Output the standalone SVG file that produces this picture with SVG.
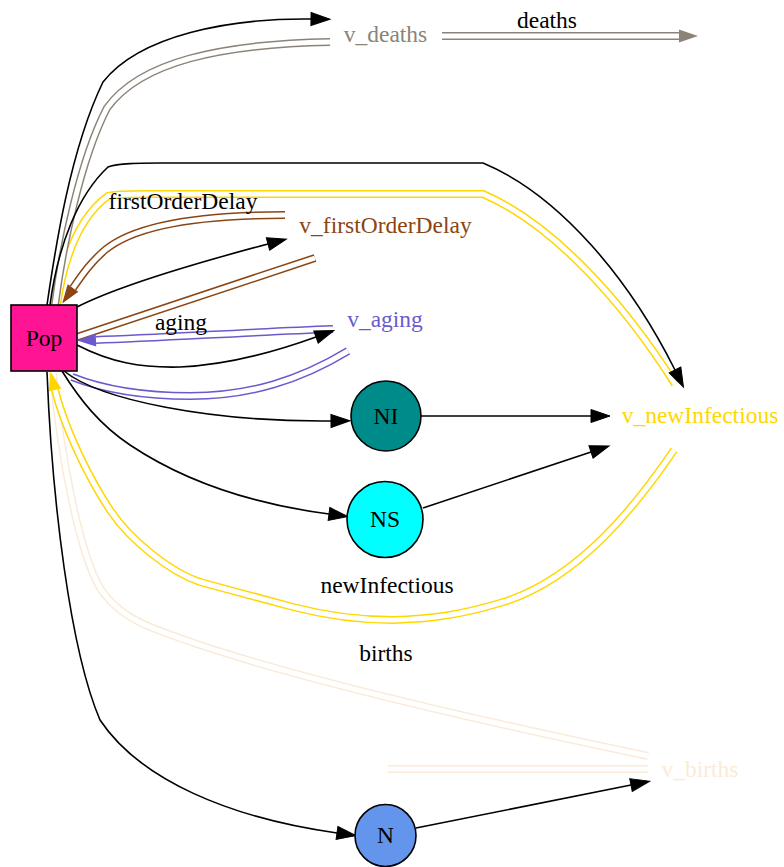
<svg xmlns="http://www.w3.org/2000/svg" width="784" height="867" viewBox="0 0 784 867">
<style>
text { font-family: "Liberation Serif", "Times New Roman", serif; font-size: 23.5px; text-anchor: middle; }
.e { fill: none; stroke: #000; stroke-width: 1.6; }
.dbl { fill: none; stroke-width: 8; }
.gap { fill: none; stroke: #fff; stroke-width: 5; }
.node { stroke: #000; stroke-width: 1.6; }
</style>
<defs>
<marker id="ak" markerUnits="userSpaceOnUse" markerWidth="22" markerHeight="16" viewBox="0 -8 22 16" refX="0" refY="0" orient="auto" overflow="visible"><path d="M0,-6.5 L19,0 L0,6.5 z" fill="#000" stroke="#000" stroke-width="1"/></marker>
<marker id="agray" markerUnits="userSpaceOnUse" markerWidth="22" markerHeight="16" viewBox="0 -8 22 16" refX="0" refY="0" orient="auto" overflow="visible"><path d="M0,-6.5 L19,0 L0,6.5 z" fill="#8b8378"/></marker>
<marker id="abrown" markerUnits="userSpaceOnUse" markerWidth="22" markerHeight="16" viewBox="0 -8 22 16" refX="0" refY="0" orient="auto" overflow="visible"><path d="M0,-6.5 L19,0 L0,6.5 z" fill="#8b4513"/></marker>
<marker id="ablue" markerUnits="userSpaceOnUse" markerWidth="22" markerHeight="16" viewBox="0 -8 22 16" refX="0" refY="0" orient="auto" overflow="visible"><path d="M0,-6.5 L19,0 L0,6.5 z" fill="#6a5acd"/></marker>
<marker id="agold" markerUnits="userSpaceOnUse" markerWidth="22" markerHeight="16" viewBox="0 -8 22 16" refX="0" refY="0" orient="auto" overflow="visible"><path d="M0,-6.5 L19,0 L0,6.5 z" fill="#ffd700"/></marker>
</defs>
<rect width="784" height="867" fill="#fff"/>
<g id="connectors">
  <g stroke="#faebd7">
    <path class="dbl" d="M53,373 C60,450 80,565 105,595 C125,620 150,628 200,645 C320,685 500,725 648,756"/>
    <path class="gap" d="M53,373 C60,450 80,565 105,595 C125,620 150,628 200,645 C320,685 500,725 648,756"/>
    <path class="dbl" d="M388,769 L648,769"/>
    <path class="gap" d="M388,769 L648,769"/>
  </g>
  <g stroke="#ffd700">
    <path class="dbl" d="M57,305 C65,250 82,215 108,196 C115,194 130,194 150,194 L483,194 C555,225 625,305 675,384"/>
    <path class="gap" d="M57,305 C65,250 82,215 108,196 C115,194 130,194 150,194 L483,194 C555,225 625,305 675,384"/>
    <path class="dbl" marker-end="url(#agold)" d="M674,450 C640,500 580,580 500,603 C460,615 430,619 393,620 C350,620 320,614 293,607 L200,582 C170,572 130,540 110,510 C90,480 65,430 55,390"/>
    <path class="gap" d="M674,450 C640,500 580,580 500,603 C460,615 430,619 393,620 C350,620 320,614 293,607 L200,582 C170,572 130,540 110,510 C90,480 65,430 55,390"/>
  </g>
  <g stroke="#8b8378">
    <path class="dbl" d="M55,305 C62,250 80,160 107,108 C140,62 220,44 330,42"/>
    <path class="gap" d="M55,305 C62,250 80,160 107,108 C140,62 220,44 330,42"/>
    <path class="dbl" marker-end="url(#agray)" d="M442,36 L679,36"/>
    <path class="gap" d="M442,36 L679,36"/>
  </g>
  <g stroke="#8b4513">
    <path class="dbl" marker-end="url(#abrown)" d="M285,215 C200,215 135,225 105,250 C90,263 82,275 73,288"/>
    <path class="gap" d="M285,215 C200,215 135,225 105,250 C90,263 82,275 73,288"/>
    <path class="dbl" d="M77,337 L315,258"/>
    <path class="gap" d="M77,337 L315,258"/>
  </g>
  <g stroke="#6a5acd">
    <path class="dbl" marker-end="url(#ablue)" d="M333,329 C250,332 160,338 96,340"/>
    <path class="gap" d="M333,329 C250,332 160,338 96,340"/>
    <path class="dbl" d="M348,351 C300,380 250,396 190,396 C140,396 100,388 72,377"/>
    <path class="gap" d="M348,351 C300,380 250,396 190,396 C140,396 100,388 72,377"/>
  </g>
  <path class="e" marker-end="url(#ak)" d="M47,305 C55,250 70,150 103,82 C140,35 230,18 311,19"/>
  <path class="e" marker-end="url(#ak)" d="M50,305 C58,245 78,195 108,167 C118,163 140,163 160,163 L483,163 C560,195 630,280 675,370"/>
  <path class="e" marker-end="url(#ak)" d="M77,307 C120,285 200,262 268,244"/>
  <path class="e" marker-end="url(#ak)" d="M77,345 C110,362 140,368 180,367 C230,365 280,350 316,337"/>
  <path class="e" marker-end="url(#ak)" d="M64,371 C100,400 210,422 331,421"/>
  <path class="e" marker-end="url(#ak)" d="M62,371 C80,400 100,425 130,445 C190,485 260,505 329,514"/>
  <path class="e" marker-end="url(#ak)" d="M47,372 C52,500 70,650 100,720 C140,780 230,818 337,833"/>
  <path class="e" marker-end="url(#ak)" d="M421,416 L591,416"/>
  <path class="e" marker-end="url(#ak)" d="M423,508 L591,452"/>
  <path class="e" marker-end="url(#ak)" d="M416,828 L631,785"/>
  <text x="547" y="28">deaths</text>
  <text x="183" y="209">firstOrderDelay</text>
  <text x="181" y="330">aging</text>
  <text x="387" y="593">newInfectious</text>
  <text x="386" y="661">births</text>
</g>
<g id="Pop"><rect class="node" x="11" y="305" width="66" height="66" fill="#ff1493"/><text x="44" y="346">Pop</text></g>
<g id="NI"><circle class="node" cx="386" cy="416" r="35" fill="#008b8b"/><text x="386" y="424">NI</text></g>
<g id="NS"><circle class="node" cx="385" cy="519.5" r="38" fill="#00ffff"/><text x="385" y="527">NS</text></g>
<g id="N"><ellipse class="node" cx="385.5" cy="835.5" rx="30.5" ry="31" fill="#6495ed"/><text x="385.5" y="843">N</text></g>
<g id="v_deaths"><text x="385.5" y="42" fill="#8b8378">v_deaths</text></g>
<g id="v_firstOrderDelay"><text x="385.5" y="233" fill="#8b4513">v_firstOrderDelay</text></g>
<g id="v_aging"><text x="385" y="327" fill="#6a5acd">v_aging</text></g>
<g id="v_newInfectious"><text x="700" y="423" fill="#ffd700">v_newInfectious</text></g>
<g id="v_births"><text x="700" y="777" fill="#faebd7">v_births</text></g>
</svg>
